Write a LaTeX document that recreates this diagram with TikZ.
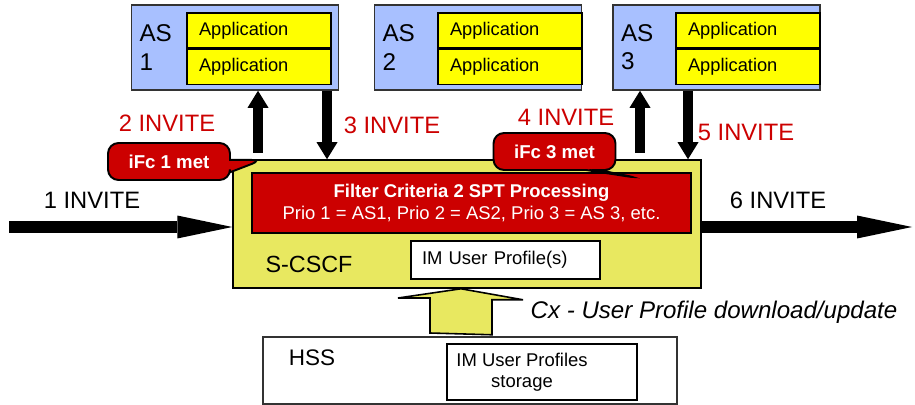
\documentclass[tikz,border=0pt]{standalone}
\usepackage{fontspec}
\setmainfont{Liberation Sans}
\usetikzlibrary{arrows.meta,positioning,shapes.callouts,calc}
\definecolor{asblue}{RGB}{168,192,255}
\definecolor{appyellow}{RGB}{255,255,0}
\definecolor{cscfyellow}{RGB}{232,232,96}
\definecolor{ifcred}{RGB}{204,0,0}

\begin{document}
\begin{tikzpicture}[x=0.02cm, y=-0.02cm,
  asbox/.style={draw=black!80, line width=0.9pt, fill=asblue, minimum height=1.7cm,
    inner xsep=0.16cm, text width=3.82cm, align=left, font=\fontsize{13.8}{16}\selectfont},
  appbox/.style={draw=black, line width=0.9pt, fill=appyellow, minimum height=0.7cm,
    inner xsep=0.24cm, text width=2.4cm, align=left, font=\fontsize{10.4}{12}\selectfont},
  invlabel/.style={text=ifcred, font=\fontsize{13.5}{16}\selectfont},
  blacklabel/.style={font=\fontsize{13.5}{16}\selectfont},
  ifc/.style={rectangle callout, draw=black, line width=1.1pt, fill=ifcred, rounded corners=6pt,
    minimum width=2.44cm, minimum height=0.74cm, text=white, font=\fontsize{10.6}{12}\selectfont\bfseries},
  thinbox/.style={draw=black, line width=0.9pt},
  invarrow/.style={line width=0.2cm, -{Triangle[width=0.42cm, length=0.34cm, line width=0pt]}},
  bigarrow/.style={line width=0.23cm, -{Triangle[width=0.46cm, length=1.1cm, line width=0pt]}}]
  \useasboundingbox (0,0) rectangle (915,405);

  % Application servers
  \node[asbox] (as1) at (235,47.5) {AS\\1};
  \node[asbox] (as2) at (478,47.5) {AS\\2};
  \node[asbox] (as3) at (716.5,47.5) {AS\\3};
  \node[appbox] (app1a) at (259,30.5) {Application};
  \node[appbox, below=0pt of app1a] (app1b) {Application};
  \node[appbox] (app2a) at (510,30.5) {Application};
  \node[appbox, below=0pt of app2a] (app2b) {Application};
  \node[appbox] (app3a) at (748,30.5) {Application};
  \node[appbox, below=0pt of app3a] (app3b) {Application};

  % S-CSCF
  \node[thinbox, fill=cscfyellow, minimum width=9.36cm, minimum height=2.56cm] (scscf) at (467,224) {};
  \node[thinbox, fill=ifcred, minimum width=8.78cm, minimum height=1.2cm, text=white, align=center,
    font=\fontsize{10.5}{12.5}\selectfont] (spt) at (471.5,203)
    {\textbf{Filter Criteria 2 SPT Processing}\\Prio 1 = AS1, Prio 2 = AS2, Prio 3 = AS 3, etc.};
  \node[thinbox, fill=white, minimum width=3.78cm, minimum height=0.76cm, inner xsep=0.22cm,
    text width=3.34cm, align=left, font=\fontsize{10.5}{12}\selectfont] (profile) at (505.5,260) {IM User Profile(s)};
  \node[font=\fontsize{13.3}{15}\selectfont] (cscflabel) at (309,264) {S-CSCF};

  % HSS
  \node[draw=black!80, line width=0.9pt, fill=white, minimum width=8.28cm, minimum height=1.34cm] (hss) at (470,370.5) {};
  \node[thinbox, minimum width=3.8cm, minimum height=1.12cm] (store) at (542,372) {};
  \node[align=center, font=\fontsize{10.5}{12}\selectfont] (storelabel) at (522,372) {IM User Profiles\\storage};
  \node[font=\fontsize{12.8}{15}\selectfont] (hsslabel) at (312,358) {HSS};

  % INVITE arrows between AS and S-CSCF
  \coordinate (up1) at (258,153);
  \coordinate (dn1) at (327,0);
  \coordinate (up3) at (640,153);
  \coordinate (dn3) at (688,0);
  \draw[invarrow] (up1) -- (up1 |- as1.south);
  \draw[invarrow] (as1.south -| dn1) -- (scscf.north -| dn1);
  \draw[invarrow] (up3) -- (up3 |- as3.south);
  \draw[invarrow] (as3.south -| dn3) -- (scscf.north -| dn3);

  % incoming and outgoing INVITE
  \coordinate (in) at (9,227);
  \coordinate (out) at (912,227);
  \draw[bigarrow] (in) -- (in -| scscf.west);
  \draw[bigarrow] (scscf.east |- out) -- (out);

  % Cx arrow
  \coordinate (cxb) at (461,333);
  \draw[line width=0.9pt, fill=cscfyellow] (cxb) ++(-31,0) -- ++(0,-35) -- ++(-32,0)
    -- (scscf.south -| cxb) -- ++(62,11) -- ++(-31,0) -- ++(0,35) -- cycle;

  % iFc callouts
  \node[ifc, callout absolute pointer={(262,160)}] (ifc1) at (169,161.5) {iFc 1 met};
  \node[ifc, callout absolute pointer={(638,178)}] (ifc3) at (554.5,151.5) {iFc 3 met};

  % labels
  \node[blacklabel] (inv1) at (92,200.5) {1 INVITE};
  \node[invlabel] (inv2) at (167,123) {2 INVITE};
  \node[invlabel] (inv3) at (392,125) {3 INVITE};
  \node[invlabel] (inv4) at (566,117) {4 INVITE};
  \node[invlabel] (inv5) at (746,132) {5 INVITE};
  \node[blacklabel] (inv6) at (778,200.5) {6 INVITE};
  \node[font=\fontsize{13.7}{16}\selectfont\itshape] (cx) at (714,312.5) {Cx - User Profile download/update};
\end{tikzpicture}
\end{document}
